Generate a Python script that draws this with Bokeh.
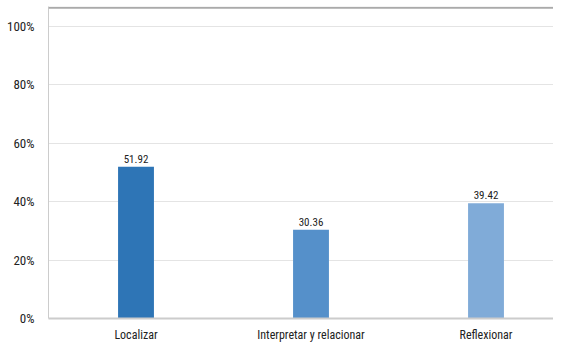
from bokeh.plotting import figure
from bokeh.models import ColumnDataSource, Range1d, FixedTicker, Span, LabelSet, NumeralTickFormatter
from bokeh.core.properties import value
from bokeh.embed import file_html
from bokeh.resources import INLINE

categories = ["Localizar", "Interpretar y relacionar", "Reflexionar"]
values = [51.92, 30.36, 39.42]
colors = ["#2E75B6", "#5590CA", "#80ABD8"]
y_ticks = [0, 20, 40, 60, 80, 100]

FONT = "Roboto Condensed"

xs = list(range(len(categories)))
src = ColumnDataSource(dict(x=xs, v=values, c=colors,
                            lab=[f"{v:.2f}" for v in values]))

p = figure(width=553, height=344, output_backend="svg", toolbar_location=None,
           x_range=Range1d(-0.5, -0.5 + 505 / 175), y_range=Range1d(0, 106.8),
           min_border_left=48, min_border_right=0, min_border_top=6, min_border_bottom=18)
p.outline_line_color = None
p.background_fill_color = "white"

p.vbar(x="x", top="v", width=0.205, fill_color="c", line_color=None, source=src)

p.add_layout(LabelSet(x="x", y="v", text="lab", source=src, text_align="center",
                      y_offset=4, text_font_size=value("11px"), text_color="#222222",
                      text_font=value(FONT)))

p.add_layout(Span(location=106.4, dimension="width", line_color="#aaaaaa", line_width=2))

p.xaxis.ticker = FixedTicker(ticks=xs)
p.xaxis.major_label_overrides = {i: c for i, c in enumerate(categories)}
p.xaxis.major_tick_line_color = None
p.xaxis.minor_tick_line_color = None
p.xaxis.axis_line_color = "#cccccc"
p.xaxis.axis_line_width = 2
p.xaxis.major_label_text_font = FONT
p.xaxis.major_label_text_font_size = "12px"
p.xaxis.major_label_text_color = "#222222"
p.xaxis.major_label_standoff = 3

p.yaxis.ticker = FixedTicker(ticks=y_ticks)
p.yaxis.formatter = NumeralTickFormatter(format="0")
p.yaxis.major_label_overrides = {t: f"{t}%" for t in y_ticks}
p.yaxis.major_tick_line_color = None
p.yaxis.minor_tick_line_color = None
p.yaxis.axis_line_color = "#cccccc"
p.yaxis.axis_line_width = 1
p.yaxis.major_label_text_font = FONT
p.yaxis.major_label_text_font_size = "13px"
p.yaxis.major_label_text_color = "#222222"
p.yaxis.major_label_standoff = 8

p.xgrid.grid_line_color = None
p.ygrid.grid_line_color = "#e4e4e4"
p.ygrid.grid_line_width = 1

open("out.html", "w").write(file_html(p, INLINE))
